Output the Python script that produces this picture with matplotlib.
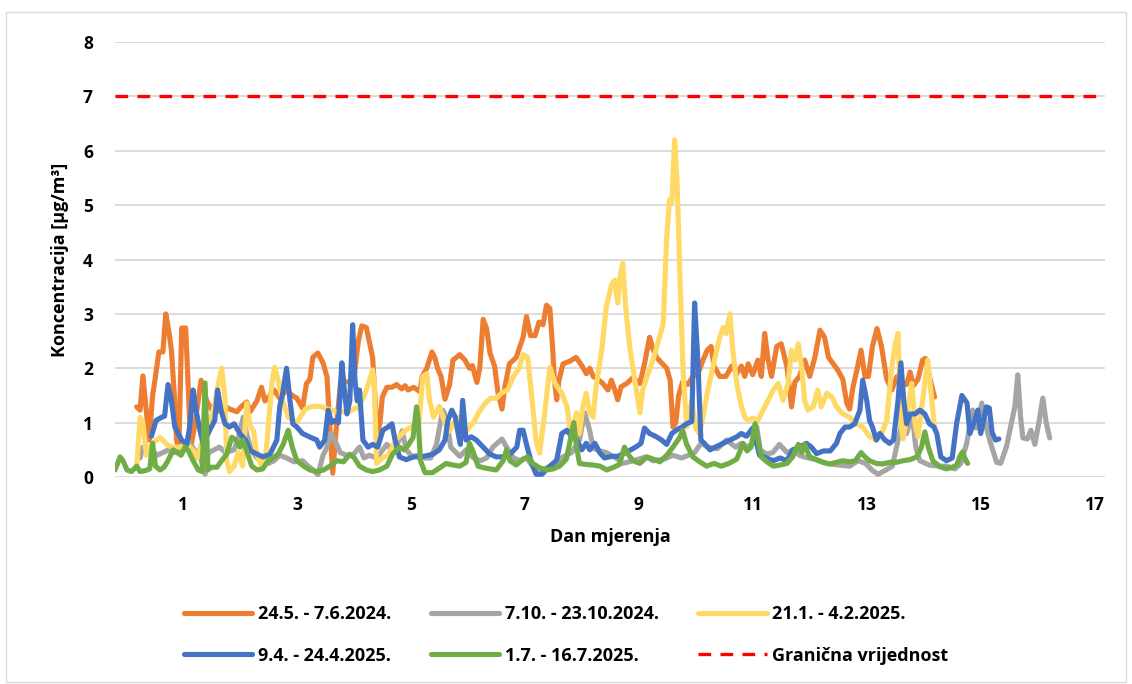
import matplotlib
matplotlib.use("Agg")
import matplotlib.pyplot as plt
from matplotlib.patches import Rectangle

plt.rcParams['font.family'] = ['Open Sans', 'DejaVu Sans']
plt.rcParams['font.weight'] = 'bold'

# (dan, koncentracija) - ocitano sa slike
ORANGE = [(0.19,1.29),(0.25,1.23),(0.30,1.86),(0.36,1.20),(0.41,0.68),(0.47,1.50),(0.52,1.85),(0.58,2.30),(0.65,2.30),(0.70,3.00),(0.76,2.65),(0.80,2.33),(0.85,1.50),(0.89,0.68),(0.93,0.50),(0.98,2.74),(1.05,2.74),(1.10,1.50),(1.14,0.55),(1.20,0.90),(1.27,1.40),(1.32,1.78),(1.42,1.40),(1.50,1.25),(1.60,1.20),(1.74,1.30),(1.82,1.25),(1.95,1.20),(2.03,1.30),(2.12,1.38),(2.18,1.20),(2.30,1.40),(2.38,1.65),(2.44,1.40),(2.53,1.50),(2.60,1.60),(2.70,1.45),(2.82,1.60),(2.92,1.50),(3.00,1.45),(3.10,1.27),(3.17,1.72),(3.23,1.80),(3.28,2.20),(3.37,2.28),(3.46,2.10),(3.53,1.84),(3.58,0.90),(3.63,0.07),(3.70,1.00),(3.77,1.75),(3.90,1.75),(4.00,1.80),(4.08,2.50),(4.14,2.78),(4.22,2.75),(4.28,2.45),(4.33,2.20),(4.37,1.50),(4.41,0.80),(4.46,1.00),(4.50,1.47),(4.58,1.65),(4.67,1.65),(4.75,1.70),(4.84,1.62),(4.90,1.68),(4.95,1.60),(5.05,1.65),(5.16,1.57),(5.20,1.85),(5.28,2.00),(5.37,2.30),(5.42,2.20),(5.47,2.00),(5.53,1.85),(5.60,1.43),(5.68,1.70),(5.74,2.15),(5.86,2.25),(5.95,2.15),(6.03,2.00),(6.08,2.05),(6.16,1.74),(6.21,2.00),(6.27,2.90),(6.33,2.73),(6.39,2.28),(6.47,2.04),(6.53,1.55),(6.60,1.25),(6.65,1.65),(6.73,2.08),(6.85,2.20),(6.97,2.57),(7.03,2.95),(7.10,2.60),(7.18,2.60),(7.25,2.85),(7.32,2.80),(7.38,3.16),(7.44,3.10),(7.49,2.35),(7.52,1.78),(7.56,1.42),(7.60,1.78),(7.67,2.08),(7.79,2.13),(7.90,2.20),(8.00,2.05),(8.08,1.90),(8.14,2.00),(8.20,1.85),(8.28,1.80),(8.37,1.72),(8.46,1.60),(8.52,1.78),(8.58,1.60),(8.63,1.42),(8.69,1.66),(8.79,1.72),(8.90,1.83),(9.02,1.72),(9.10,2.08),(9.19,2.57),(9.25,2.35),(9.31,2.20),(9.40,2.10),(9.49,2.00),(9.55,1.78),(9.60,0.92),(9.65,1.00),(9.70,1.50),(9.77,1.75),(9.86,1.70),(9.95,1.85),(10.04,1.90),(10.12,2.13),(10.20,2.33),(10.27,2.40),(10.32,2.04),(10.42,1.85),(10.53,1.85),(10.63,2.04),(10.72,1.90),(10.80,2.04),(10.86,1.85),(10.92,2.08),(11.00,1.88),(11.09,2.15),(11.15,1.85),(11.21,2.64),(11.27,2.15),(11.33,1.85),(11.42,2.40),(11.50,2.45),(11.60,2.03),(11.68,1.29),(11.74,1.75),(11.82,1.85),(11.91,2.15),(12.00,1.85),(12.09,2.20),(12.18,2.70),(12.26,2.57),(12.33,2.20),(12.40,2.10),(12.49,1.97),(12.58,1.80),(12.65,1.36),(12.70,1.25),(12.76,1.66),(12.84,2.03),(12.90,2.33),(12.97,1.85),(13.03,1.85),(13.10,2.40),(13.18,2.73),(13.26,2.40),(13.35,1.80),(13.44,1.60),(13.53,1.85),(13.60,1.75),(13.70,1.70),(13.76,1.93),(13.82,1.68),(13.90,1.80),(13.98,2.15),(14.03,2.18),(14.10,1.85),(14.19,1.47)]

GRAY = [(0.25,0.35),(0.30,0.55),(0.36,0.45),(0.45,0.50),(0.55,0.40),(0.65,0.45),(0.75,0.50),(0.85,0.45),(0.95,0.55),(1.05,0.50),(1.12,0.63),(1.20,0.50),(1.30,0.40),(1.36,0.15),(1.39,0.05),(1.45,0.45),(1.55,0.50),(1.64,0.55),(1.75,0.45),(1.90,0.50),(1.97,0.70),(2.06,1.10),(2.12,0.80),(2.20,0.50),(2.30,0.35),(2.40,0.30),(2.50,0.25),(2.60,0.30),(2.70,0.40),(2.82,0.35),(2.95,0.28),(3.10,0.30),(3.20,0.20),(3.30,0.12),(3.37,0.04),(3.46,0.40),(3.53,0.55),(3.60,0.80),(3.66,0.70),(3.76,0.45),(3.88,0.40),(3.98,0.40),(4.10,0.55),(4.18,0.35),(4.27,0.40),(4.40,0.35),(4.58,0.60),(4.70,0.45),(4.80,0.70),(4.85,0.85),(4.92,0.50),(5.02,0.38),(5.15,0.40),(5.25,0.35),(5.35,0.35),(5.45,0.60),(5.56,1.23),(5.62,1.10),(5.70,0.55),(5.86,0.38),(5.97,0.50),(6.10,0.35),(6.22,0.30),(6.33,0.35),(6.44,0.55),(6.60,0.70),(6.68,0.55),(6.80,0.35),(6.92,0.30),(7.03,0.35),(7.14,0.20),(7.22,0.13),(7.35,0.15),(7.50,0.22),(7.67,0.37),(7.82,0.45),(7.96,0.68),(8.05,1.18),(8.10,1.00),(8.14,0.85),(8.20,0.53),(8.32,0.48),(8.43,0.45),(8.60,0.35),(8.72,0.25),(8.90,0.30),(9.13,0.37),(9.25,0.30),(9.45,0.33),(9.60,0.40),(9.75,0.35),(9.87,0.40),(9.98,0.45),(10.10,0.63),(10.20,0.55),(10.38,0.52),(10.54,0.68),(10.70,0.55),(10.80,0.62),(10.90,0.55),(11.00,0.62),(11.07,0.92),(11.13,0.50),(11.24,0.42),(11.35,0.45),(11.47,0.60),(11.60,0.45),(11.72,0.50),(11.82,0.40),(11.90,0.37),(12.10,0.32),(12.30,0.25),(12.50,0.22),(12.70,0.20),(12.85,0.30),(12.98,0.25),(13.10,0.12),(13.20,0.05),(13.32,0.12),(13.45,0.20),(13.55,0.68),(13.62,1.00),(13.70,0.80),(13.80,1.15),(13.86,0.55),(13.93,0.30),(14.10,0.22),(14.28,0.20),(14.40,0.20),(14.55,0.15),(14.65,0.25),(14.75,0.60),(14.82,1.00),(14.86,1.23),(14.92,0.90),(15.02,1.36),(15.10,0.90),(15.18,0.60),(15.28,0.27),(15.35,0.25),(15.45,0.55),(15.54,1.00),(15.60,1.30),(15.65,1.88),(15.70,1.10),(15.74,0.72),(15.82,0.70),(15.88,0.86),(15.95,0.60),(16.02,1.00),(16.09,1.45),(16.15,1.00),(16.21,0.72)]

YELLOW = [(0.19,0.18),(0.25,1.10),(0.30,1.00),(0.36,0.40),(0.42,0.55),(0.50,0.65),(0.60,0.73),(0.72,0.60),(0.80,0.55),(0.95,0.55),(1.07,0.60),(1.18,0.50),(1.25,0.35),(1.35,0.70),(1.45,0.90),(1.55,1.30),(1.62,1.70),(1.68,2.00),(1.74,1.45),(1.77,0.30),(1.82,0.10),(1.90,0.20),(1.97,0.45),(2.05,0.20),(2.12,1.36),(2.18,0.95),(2.24,0.85),(2.30,0.40),(2.40,0.15),(2.47,0.55),(2.56,1.70),(2.61,2.02),(2.68,1.75),(2.75,1.40),(2.85,1.10),(3.00,1.00),(3.15,1.25),(3.27,1.30),(3.40,1.30),(3.55,1.25),(3.70,1.20),(3.85,1.20),(3.95,1.22),(4.10,1.30),(4.22,1.60),(4.33,1.97),(4.36,1.70),(4.40,0.25),(4.50,0.35),(4.60,0.40),(4.75,0.70),(4.90,0.85),(5.05,0.95),(5.14,0.95),(5.21,1.85),(5.28,1.90),(5.33,1.40),(5.40,1.10),(5.50,1.30),(5.60,1.00),(5.68,0.85),(5.75,1.00),(5.85,1.10),(5.98,0.85),(6.10,1.00),(6.20,1.20),(6.30,1.35),(6.40,1.45),(6.50,1.45),(6.60,1.55),(6.70,1.60),(6.80,1.85),(6.90,2.00),(6.97,2.25),(7.05,2.20),(7.12,1.50),(7.20,0.65),(7.26,0.44),(7.35,1.18),(7.44,2.02),(7.53,1.72),(7.65,1.54),(7.74,1.30),(7.79,0.92),(7.85,0.92),(7.91,1.18),(7.96,0.80),(8.02,1.30),(8.08,1.54),(8.14,1.18),(8.20,1.10),(8.25,1.66),(8.35,2.33),(8.43,3.13),(8.53,3.56),(8.58,3.62),(8.63,3.20),(8.68,3.75),(8.72,3.93),(8.77,3.13),(8.84,2.40),(8.93,1.78),(9.02,1.18),(9.07,1.60),(9.16,1.90),(9.25,2.15),(9.33,2.45),(9.43,2.82),(9.49,4.40),(9.54,5.10),(9.58,5.05),(9.63,6.20),(9.67,5.50),(9.70,4.50),(9.72,3.75),(9.78,1.90),(9.84,0.92),(9.93,1.40),(10.00,0.90),(10.06,0.80),(10.12,1.06),(10.20,1.54),(10.30,2.02),(10.42,2.57),(10.48,2.75),(10.53,2.64),(10.60,3.00),(10.65,2.33),(10.72,1.72),(10.80,1.30),(10.86,1.10),(10.92,1.04),(11.00,1.08),(11.09,1.04),(11.18,1.23),(11.27,1.41),(11.36,1.60),(11.45,1.72),(11.53,1.41),(11.62,1.72),(11.68,2.33),(11.74,2.15),(11.80,2.45),(11.86,2.00),(11.91,1.41),(11.97,1.23),(12.06,1.29),(12.14,1.60),(12.20,1.29),(12.30,1.54),(12.39,1.47),(12.47,1.29),(12.58,1.16),(12.70,1.10),(12.82,0.98),(12.93,0.92),(13.05,0.74),(13.17,0.68),(13.26,0.80),(13.35,1.04),(13.44,2.02),(13.50,2.45),(13.55,2.64),(13.60,0.95),(13.64,0.70),(13.72,1.23),(13.79,1.72),(13.85,0.95),(13.90,0.74),(13.98,1.41),(14.07,2.15),(14.13,1.54),(14.19,0.92)]

BLUE = [(0.45,0.75),(0.53,1.04),(0.63,1.10),(0.68,1.12),(0.74,1.70),(0.80,1.41),(0.86,0.92),(0.92,0.80),(0.98,0.68),(1.07,0.60),(1.12,0.92),(1.18,1.60),(1.23,1.23),(1.30,0.86),(1.36,0.60),(1.47,0.86),(1.56,1.04),(1.61,1.60),(1.67,1.23),(1.74,0.98),(1.82,0.92),(1.90,0.98),(2.00,0.80),(2.10,0.68),(2.18,0.49),(2.30,0.42),(2.41,0.37),(2.53,0.42),(2.65,0.68),(2.70,1.29),(2.75,1.53),(2.82,2.00),(2.88,1.41),(2.93,0.98),(3.00,0.92),(3.10,0.80),(3.22,0.74),(3.35,0.68),(3.40,0.55),(3.49,0.68),(3.55,1.23),(3.61,1.00),(3.67,1.04),(3.73,1.00),(3.79,2.10),(3.84,1.54),(3.88,1.16),(3.93,1.40),(3.98,2.80),(4.02,1.78),(4.06,1.40),(4.10,1.60),(4.16,0.68),(4.25,0.55),(4.33,0.60),(4.42,0.55),(4.51,0.86),(4.60,0.92),(4.67,0.98),(4.72,0.70),(4.80,0.37),(4.92,0.32),(5.05,0.37),(5.18,0.37),(5.39,0.42),(5.50,0.50),(5.60,0.68),(5.65,1.04),(5.72,1.23),(5.78,1.10),(5.84,0.75),(5.87,0.60),(5.91,1.41),(5.97,0.68),(6.06,0.74),(6.15,0.68),(6.27,0.55),(6.39,0.42),(6.50,0.37),(6.62,0.37),(6.74,0.42),(6.86,0.55),(6.91,0.86),(6.97,0.86),(7.03,0.60),(7.12,0.25),(7.20,0.05),(7.30,0.05),(7.44,0.20),(7.56,0.31),(7.65,0.80),(7.74,0.86),(7.82,0.75),(7.91,0.68),(8.00,0.50),(8.08,0.62),(8.14,0.50),(8.23,0.62),(8.32,0.44),(8.40,0.35),(8.52,0.38),(8.63,0.38),(8.75,0.44),(8.86,0.50),(8.96,0.56),(9.04,0.62),(9.10,0.90),(9.19,0.80),(9.31,0.74),(9.40,0.68),(9.49,0.60),(9.58,0.80),(9.67,0.87),(9.76,0.92),(9.84,0.98),(9.93,1.02),(9.98,3.20),(10.04,2.08),(10.09,0.68),(10.15,0.62),(10.25,0.50),(10.36,0.56),(10.48,0.62),(10.60,0.68),(10.72,0.74),(10.80,0.80),(10.89,0.75),(11.00,0.90),(11.12,0.40),(11.24,0.35),(11.36,0.30),(11.48,0.35),(11.60,0.30),(11.70,0.50),(11.82,0.55),(11.94,0.62),(12.03,0.55),(12.12,0.43),(12.24,0.48),(12.36,0.48),(12.47,0.62),(12.53,0.80),(12.62,0.92),(12.70,0.92),(12.79,0.98),(12.88,1.23),(12.93,1.78),(13.00,1.41),(13.05,1.04),(13.10,0.92),(13.17,0.68),(13.23,0.80),(13.32,0.68),(13.40,0.62),(13.47,0.68),(13.55,1.41),(13.60,2.10),(13.65,1.41),(13.70,0.98),(13.76,1.16),(13.85,1.16),(13.93,1.23),(14.02,1.16),(14.10,0.98),(14.18,0.92),(14.23,0.80),(14.30,0.37),(14.40,0.30),(14.50,0.35),(14.58,1.00),(14.67,1.50),(14.76,1.36),(14.81,0.80),(14.88,1.00),(14.95,1.23),(15.00,0.80),(15.10,1.29),(15.15,1.27),(15.20,0.82),(15.26,0.68),(15.32,0.70)]

GREEN = [(-0.19,0.13),(-0.10,0.37),(-0.05,0.30),(0.02,0.13),(0.10,0.10),(0.19,0.20),(0.25,0.10),(0.35,0.12),(0.42,0.15),(0.47,0.62),(0.52,0.20),(0.60,0.13),(0.67,0.18),(0.74,0.30),(0.83,0.50),(0.90,0.45),(0.97,0.40),(1.04,0.55),(1.10,0.48),(1.18,0.30),(1.27,0.13),(1.34,0.10),(1.39,1.73),(1.44,0.13),(1.50,0.18),(1.60,0.18),(1.68,0.30),(1.77,0.42),(1.86,0.73),(1.93,0.68),(2.00,0.55),(2.05,0.68),(2.12,0.48),(2.21,0.20),(2.30,0.13),(2.40,0.15),(2.50,0.30),(2.58,0.35),(2.67,0.42),(2.76,0.60),(2.85,0.86),(2.92,0.55),(3.00,0.30),(3.12,0.20),(3.23,0.13),(3.35,0.10),(3.47,0.13),(3.58,0.20),(3.70,0.30),(3.82,0.28),(3.93,0.42),(4.01,0.35),(4.10,0.20),(4.22,0.13),(4.33,0.10),(4.45,0.13),(4.58,0.20),(4.68,0.42),(4.80,0.55),(4.88,0.50),(4.95,0.58),(5.04,0.73),(5.10,1.29),(5.13,1.05),(5.17,0.30),(5.25,0.08),(5.38,0.08),(5.51,0.17),(5.62,0.25),(5.74,0.22),(5.86,0.20),(5.97,0.27),(6.03,0.62),(6.10,0.45),(6.18,0.20),(6.28,0.17),(6.38,0.15),(6.50,0.13),(6.62,0.30),(6.68,0.50),(6.74,0.30),(6.85,0.22),(6.97,0.33),(7.05,0.37),(7.14,0.25),(7.26,0.17),(7.38,0.13),(7.50,0.15),(7.61,0.20),(7.73,0.33),(7.82,0.80),(7.86,1.00),(7.91,0.55),(7.96,0.25),(8.08,0.23),(8.20,0.22),(8.32,0.20),(8.44,0.13),(8.56,0.18),(8.66,0.23),(8.75,0.55),(8.81,0.42),(8.90,0.30),(9.02,0.25),(9.14,0.37),(9.25,0.33),(9.37,0.28),(9.49,0.40),(9.60,0.55),(9.72,0.73),(9.77,0.86),(9.84,0.60),(9.95,0.37),(10.07,0.28),(10.19,0.20),(10.32,0.25),(10.45,0.20),(10.58,0.25),(10.72,0.33),(10.83,0.62),(10.90,0.48),(10.97,0.55),(11.04,0.98),(11.09,0.70),(11.15,0.37),(11.25,0.28),(11.36,0.20),(11.48,0.22),(11.60,0.25),(11.70,0.37),(11.80,0.60),(11.86,0.45),(11.91,0.60),(12.00,0.37),(12.12,0.32),(12.23,0.27),(12.35,0.24),(12.47,0.27),(12.58,0.30),(12.70,0.28),(12.80,0.30),(12.90,0.45),(12.97,0.37),(13.05,0.30),(13.17,0.25),(13.28,0.24),(13.40,0.27),(13.52,0.27),(13.64,0.30),(13.76,0.32),(13.88,0.37),(13.96,0.55),(14.02,0.83),(14.08,0.55),(14.16,0.30),(14.28,0.19),(14.40,0.15),(14.50,0.18),(14.58,0.22),(14.63,0.37),(14.68,0.46),(14.72,0.35),(14.77,0.25)]

LIMIT = 7
LABELS = ['24.5. - 7.6.2024.', '7.10. - 23.10.2024.', '21.1. - 4.2.2025.',
          '9.4. - 24.4.2025.', '1.7. - 16.7.2025.']
COLORS = ['#ED7D31', '#A5A5A5', '#FFD966', '#4472C4', '#70AD47']
X_TICKS = [1, 3, 5, 7, 9, 11, 13, 15, 17]
Y_TICKS = [0, 1, 2, 3, 4, 5, 6, 7, 8]

fig = plt.figure(figsize=(11.32, 6.84), dpi=100)
ax = fig.add_axes([0.1016, 0.3026, 0.8745, 0.636])

handles = []
for data, label, color in zip([ORANGE, GRAY, YELLOW, BLUE, GREEN], LABELS, COLORS):
    xs = [p[0] for p in data]
    ys = [p[1] for p in data]
    h, = ax.plot(xs, ys, color=color, lw=3.7, label=label,
                 solid_joinstyle='round', solid_capstyle='round')
    handles.append(h)

lim = ax.axhline(LIMIT, color='#FF0000', lw=2.4, ls=(0, (3.8, 2.8)), label='Granična vrijednost')
handles.append(lim)

ax.set_xlim(-0.19, 17.18)
ax.set_ylim(0, 8)
ax.set_xticks(X_TICKS)
ax.set_yticks(Y_TICKS)
ax.grid(axis='y', color='#D9D9D9', lw=1.3)
ax.set_axisbelow(True)
for s in ax.spines.values():
    s.set_visible(False)
ax.tick_params(length=0, labelsize=12.5, colors='black')
ax.tick_params(axis='y', pad=16)
ax.tick_params(axis='x', pad=14)

ax.set_ylabel('Koncentracija [µg/m³]', fontsize=13, fontweight='bold', labelpad=10)
ax.set_xlabel('Dan mjerenja', fontsize=13, fontweight='bold', labelpad=10)

# Excel slaze legendu po redovima, matplotlib po stupcima
order = [0, 3, 1, 4, 2, 5]
fig.legend([handles[i] for i in order], [handles[i].get_label() for i in order],
           ncol=3, loc='center', bbox_to_anchor=(0.5, 0.0716), frameon=False,
           prop={'size': 13, 'weight': 'bold'}, handlelength=3.8, handletextpad=0.3,
           columnspacing=2.2, labelspacing=1.3)

fig.patches.append(Rectangle((6 / 1132, 2 / 684), 1120 / 1132, 670 / 684,
                             transform=fig.transFigure, fill=False,
                             edgecolor='#D9D9D9', lw=1))

fig.savefig('out.png', dpi=100)
